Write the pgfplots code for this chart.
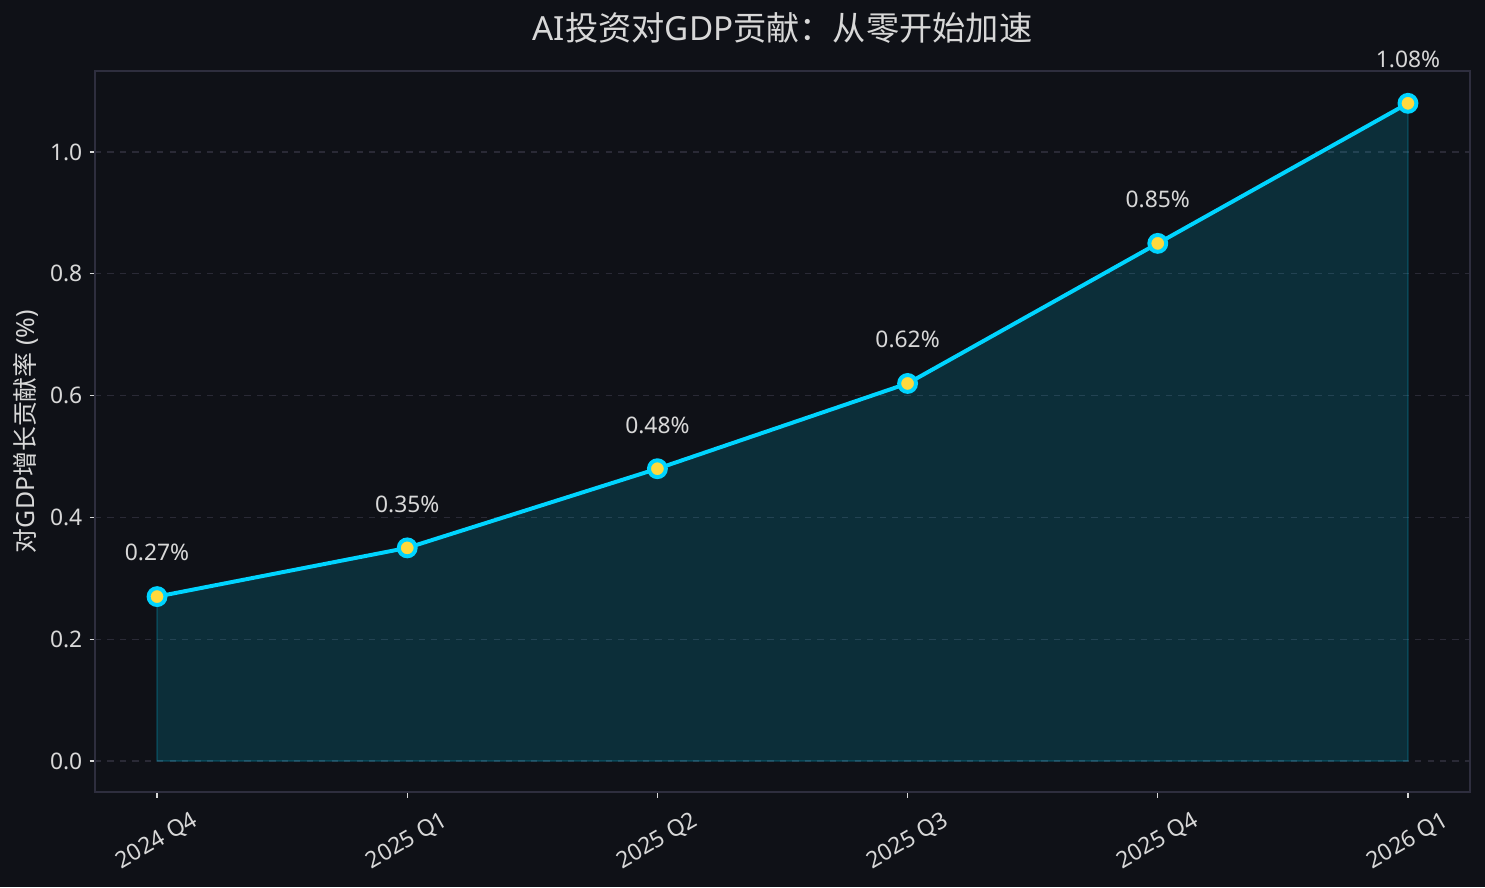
\documentclass[border=0pt]{standalone}
\usepackage{fontspec}
\setmainfont{Noto Sans}
\newfontfamily\cjk{Noto Sans CJK SC}
\usepackage{pgfplots}
\pgfplotsset{compat=1.18}
\usetikzlibrary{backgrounds}
\definecolor{bg}{HTML}{0F1117}
\definecolor{spine}{HTML}{2E2E3E}
\definecolor{gridc}{HTML}{2A2A36}
\definecolor{txt}{HTML}{D8D8D8}
\definecolor{cyanl}{HTML}{00D4FF}
\definecolor{yel}{HTML}{FFD93D}
\begin{document}
\begin{tikzpicture}[x=1bp,y=1bp]
\path[use as bounding box] (-45.6bp,-45.6bp) rectangle (667.2bp,380.2bp);
\begin{axis}[
  name=ax,
  at={(0,0)}, anchor=south west,
  scale only axis,
  width=660bp, height=346.1bp,
  xmin=-0.248, xmax=5.248,
  ymin=-0.051, ymax=1.133,
  xtick={0,1,2,3,4,5},
  xticklabels={2024 Q4,2025 Q1,2025 Q2,2025 Q3,2025 Q4,2026 Q1},
  ytick={0,0.2,0.4,0.6,0.8,1.0},
  yticklabels={0.0,0.2,0.4,0.6,0.8,1.0},
  /pgf/number format/assume math mode=true,
  axis line style={spine, line width=0.6bp},
  tick style={txt, line width=0.6bp},
  tick align=outside,
  major tick length=2.6bp,
  xtick pos=bottom, ytick pos=left,
  ymajorgrids=true,
  grid style={gridc, dashed, line width=0.6bp},
  ticklabel style={font=\fontsize{11}{13}\selectfont, text=txt},
  xticklabel style={yshift=-21bp, rotate=30, anchor=center},
  ylabel={{\cjk 对}GDP{\cjk 增长贡献率} (\%)},
  ylabel style={font=\fontsize{12}{14}\selectfont, text=txt, at={(ticklabel cs:0.5)}, anchor=south, yshift=-1.5bp},
  clip=false,
]
\addplot[draw=cyanl, draw opacity=0.25, fill=cyanl, fill opacity=0.15, line width=0.6bp]
  coordinates {(0,0) (0,0.27) (1,0.35) (2,0.48) (3,0.62) (4,0.85) (5,1.08) (5,0)} -- cycle;
\addplot[cyanl, line width=1.9bp, mark=*, mark size=4.05bp,
  mark options={fill=yel, draw=cyanl, line width=1.9bp},
  nodes near coords, point meta=explicit symbolic,
  every node near coord/.style={font=\fontsize{11}{13}\selectfont, text=txt, anchor=center, yshift=21bp}]
  table[meta=lab] {
x y lab
0 0.27 0.27\%
1 0.35 0.35\%
2 0.48 0.48\%
3 0.62 0.62\%
4 0.85 0.85\%
5 1.08 1.08\%
};
\end{axis}
\node[text=txt, font=\fontsize{16}{19}\selectfont, anchor=center] at (330bp, 366.7bp) {AI{\cjk 投资对}GDP{\cjk 贡献：从零开始加速}};
\begin{scope}[on background layer]
\fill[bg] (-45.6bp,-45.6bp) rectangle (667.2bp,380.2bp);
\end{scope}
\end{tikzpicture}
\end{document}
